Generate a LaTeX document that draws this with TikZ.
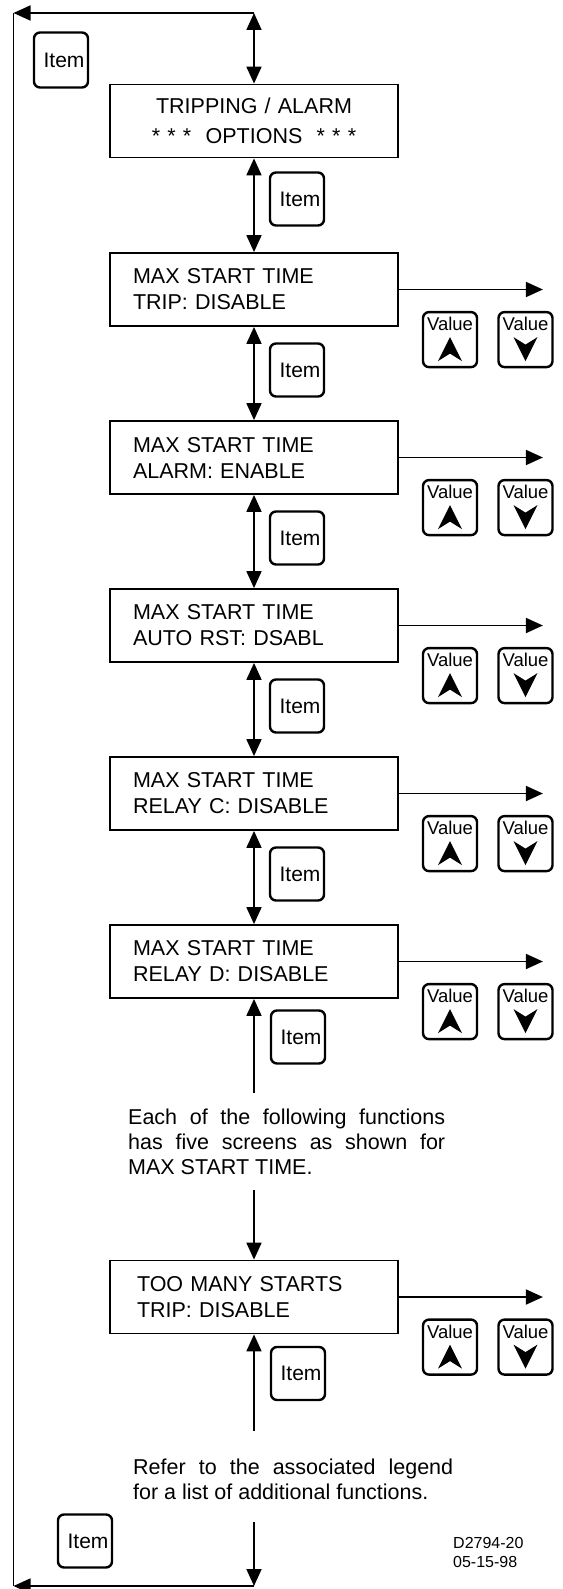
\documentclass[tikz,border=0pt]{standalone}
\usepackage{fontspec}
\setmainfont{Liberation Sans}
\usetikzlibrary{arrows.meta,calc}

\tikzset{
  conn/.style={line width=1.8pt},
  tip/.style={-{Triangle[length=17pt,width=15pt]}},
  dbl/.style={{Triangle[length=17pt,width=15pt]}-{Triangle[length=17pt,width=15pt]}},
  screen/.style={draw, line width=1.8pt, minimum width=288pt, minimum height=73pt,
    inner xsep=23pt, inner ysep=0pt, text width=242pt, align=left,
    font=\fontsize{21.5}{26}\selectfont},
  btn/.style={draw, line width=2.4pt, rounded corners=6pt, minimum width=54pt,
    minimum height=53pt, inner sep=1pt},
  itemkey/.style={btn, font=\fontsize{21}{21}\selectfont},
  valkey/.style={btn, minimum height=55pt},
  vtext/.style={inner sep=0pt, font=\fontsize{18.5}{18.5}\selectfont},
  note/.style={align=left, inner sep=0pt, font=\fontsize{21.5}{25}\selectfont},
}

\begin{document}
\begin{tikzpicture}[x=1pt,y=-1pt]
\useasboundingbox (0,0) rectangle (562,1589);

% outer return loop
\coordinate (tl) at (13.5,13);
\coordinate (tr) at (254,13);
\coordinate (bl) at (13.5,1586);
\coordinate (br) at (254,1586);

% menu header and screens
\node[screen, align=center, font=\fontsize{21.5}{30}\selectfont] (top) at (254,121)
  {TRIPPING / ALARM\\{}* * *\ \ OPTIONS\ \ * * *};
\node[screen] (s1) at (254,289.5) {MAX START TIME\\TRIP: DISABLE};
\node[screen] (s2) at (254,457.5) {MAX START TIME\\ALARM: ENABLE};
\node[screen] (s3) at (254,625.5) {MAX START TIME\\AUTO RST: DSABL};
\node[screen] (s4) at (254,793.5) {MAX START TIME\\RELAY C: DISABLE};
\node[screen] (s5) at (254,961.5) {MAX START TIME\\RELAY D: DISABLE};
\node[screen, inner xsep=27pt, text width=234pt] (s6) at (254,1297)
  {TOO MANY STARTS\\TRIP: DISABLE};

% Item keys
\node[itemkey, minimum height=55pt] (k0) at (61,60) {\hspace{6pt}Item};
\node[itemkey] (k1) at (297,199) {\hspace{6pt}Item};
\node[itemkey] (k2) at (297,370) {\hspace{6pt}Item};
\node[itemkey] (k3) at (297,538) {\hspace{6pt}Item};
\node[itemkey] (k4) at (297,706) {\hspace{6pt}Item};
\node[itemkey] (k5) at (297,874) {\hspace{6pt}Item};
\node[itemkey] (k6) at (298,1037) {\hspace{6pt}Item};
\node[itemkey] (k7) at (298,1373.5) {\hspace{6pt}Item};
\node[itemkey] (k8) at (85,1541) {\hspace{6pt}Item};

% explanatory notes
\node[note, anchor=north west] (n1) at (128,1109)
  {\makebox[317pt][s]{Each of the following functions}\\
   \makebox[317pt][s]{has five screens as shown for}\\
   MAX START TIME.};
\node[note, anchor=north west] (n2) at (133,1459)
  {\makebox[320pt][s]{Refer to the associated legend}\\
   for a list of additional functions.};
\node[align=left, inner sep=0pt, anchor=north west,
  font=\fontsize{16}{19}\selectfont] (dwg) at (453,1537) {D2794-20\\05-15-98};

% loop lines
\draw[conn] (tl) -- (bl);
\draw[conn, tip] (tr) -- (tl);
\draw[conn, dbl] (tr) -- (top.north);
\draw[conn, tip] (br) -- (bl);

% item navigation between screens
\draw[conn, dbl] (top.south) -- (s1.north);
\draw[conn, dbl] (s1.south) -- (s2.north);
\draw[conn, dbl] (s2.south) -- (s3.north);
\draw[conn, dbl] (s3.south) -- (s4.north);
\draw[conn, dbl] (s4.south) -- (s5.north);

\coordinate (a1) at (254,1093);
\coordinate (a2) at (254,1190);
\coordinate (a3) at (254,1431);
\coordinate (a4) at (254,1522);
\draw[conn, tip] (a1) -- (s5.south);
\draw[conn, tip] (a2) -- (s6.north);
\draw[conn, tip] (a3) -- (s6.south);
\draw[conn, tip] (a4) -- (br);

% value keys and exits of each setting screen
\foreach \s in {s1,s2,s3,s4,s5,s6}{
  \coordinate (\s-out) at ($(\s.east)+(144,0)$);
  \draw[conn, tip] (\s.east) -- (\s-out);
  \node[valkey] (\s-up) at ($(\s.north)+(196,87.5)$) {};
  \node[valkey] (\s-dn) at ($(\s.north)+(271.5,87.5)$) {};
  \node[vtext] (\s-upt) at ($(\s-up.center)+(0,-15.5)$) {Value};
  \node[vtext] (\s-dnt) at ($(\s-dn.center)+(0,-15.5)$) {Value};
  \fill ($(\s-up.center)+(0,9.5)$) ++(0,-12) -- ++(12,24) -- ++(-12,-7.5) -- ++(-12,7.5) -- cycle;
  \fill ($(\s-dn.center)+(0,9.5)$) ++(0,12) -- ++(12,-24) -- ++(-12,7.5) -- ++(-12,-7.5) -- cycle;
}
\end{tikzpicture}
\end{document}
